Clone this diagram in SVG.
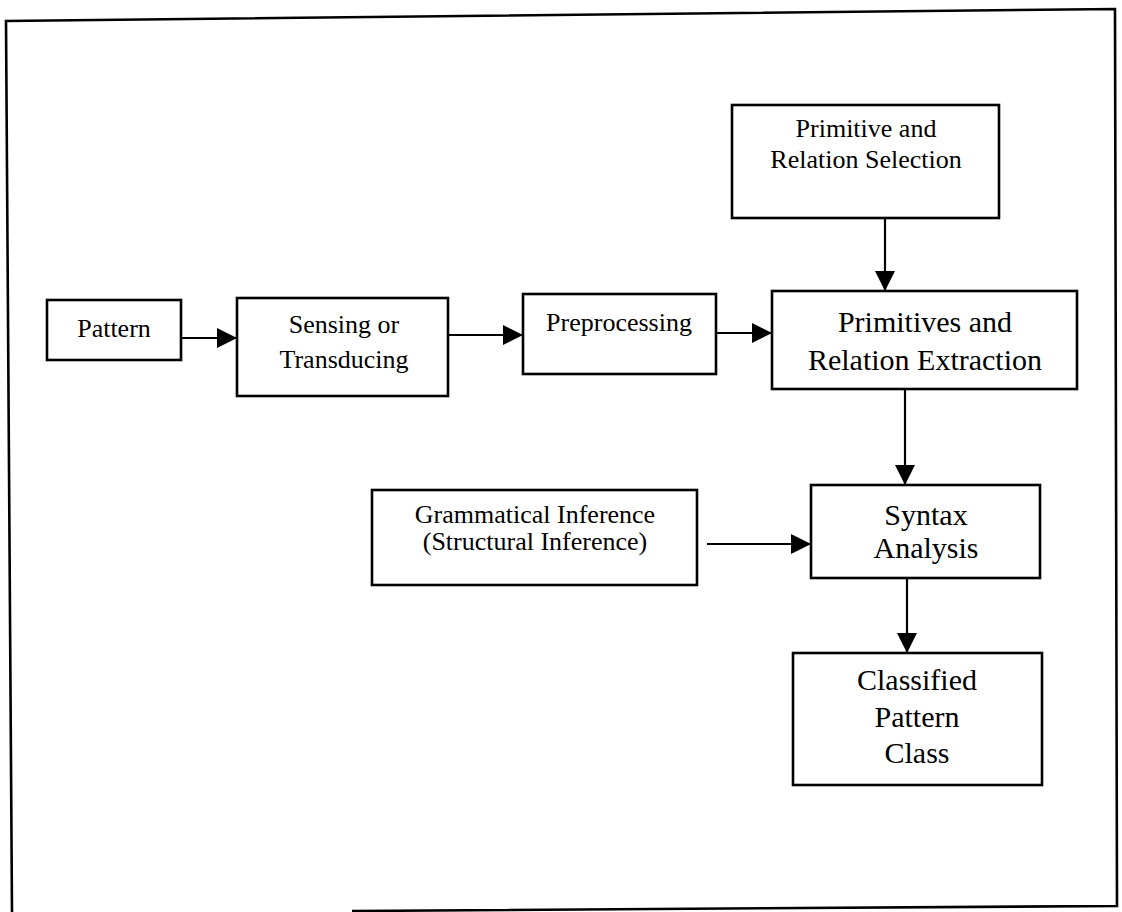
<svg xmlns="http://www.w3.org/2000/svg" width="1122" height="912" viewBox="0 0 1122 912">
  <defs>
    <marker id="head" markerUnits="userSpaceOnUse" markerWidth="20" markerHeight="20" refX="20" refY="10" orient="auto">
      <path d="M0,0 L20,10 L0,20 Z" fill="#000"/>
    </marker>
    <style>
      .box { fill: #fff; stroke: #000; stroke-width: 2.6; }
      .frame { fill: none; stroke: #000; stroke-width: 2.6; }
      .edge { fill: none; stroke: #000; stroke-width: 2.2; marker-end: url(#head); }
      text { font-family: "Liberation Serif", "Times New Roman", serif; fill: #000; text-anchor: middle; }
      .s26 { font-size: 26px; }
      .s30 { font-size: 30px; }
    </style>
  </defs>
  <rect width="1122" height="912" fill="#fff"/>

  <!-- outer border -->
  <path class="frame" d="M352,911 L1117,906 L1115,9 L6,21 L12,912"/>

  <g id="pattern">
    <rect class="box" x="47" y="300" width="134" height="60"/>
    <text class="s26" x="114" y="337">Pattern</text>
  </g>

  <g id="sensing">
    <rect class="box" x="237" y="298" width="211" height="98"/>
    <text class="s26" x="344" y="333">Sensing or</text>
    <text class="s26" x="344" y="368">Transducing</text>
  </g>

  <g id="preprocessing">
    <rect class="box" x="523" y="294" width="193" height="80"/>
    <text class="s26" x="619" y="331">Preprocessing</text>
  </g>

  <g id="selection">
    <rect class="box" x="732" y="105" width="267" height="113"/>
    <text class="s26" x="866" y="137">Primitive and</text>
    <text class="s26" x="866" y="168">Relation Selection</text>
  </g>

  <g id="extraction">
    <rect class="box" x="772" y="291" width="305" height="98"/>
    <text class="s30" x="925" y="332">Primitives and</text>
    <text class="s30" x="925" y="370">Relation Extraction</text>
  </g>

  <g id="inference">
    <rect class="box" x="372" y="490" width="325" height="95"/>
    <text class="s26" x="535" y="523">Grammatical Inference</text>
    <text class="s26" x="535" y="550">(Structural Inference)</text>
  </g>

  <g id="syntax">
    <rect class="box" x="811" y="485" width="229" height="93"/>
    <text class="s30" x="926" y="525">Syntax</text>
    <text class="s30" x="926" y="558">Analysis</text>
  </g>

  <g id="classified">
    <rect class="box" x="793" y="653" width="249" height="132"/>
    <text class="s30" x="917" y="690">Classified</text>
    <text class="s30" x="917" y="727">Pattern</text>
    <text class="s30" x="917" y="763">Class</text>
  </g>

  <g id="connectors">
    <line class="edge" x1="181" y1="338" x2="237" y2="338"/>
    <line class="edge" x1="448" y1="335" x2="523" y2="335"/>
    <line class="edge" x1="716" y1="333" x2="772" y2="333"/>
    <line class="edge" x1="885" y1="218" x2="885" y2="291"/>
    <line class="edge" x1="905" y1="389" x2="905" y2="485"/>
    <line class="edge" x1="707" y1="544" x2="811" y2="544"/>
    <line class="edge" x1="907" y1="578" x2="907" y2="653"/>
  </g>
</svg>
